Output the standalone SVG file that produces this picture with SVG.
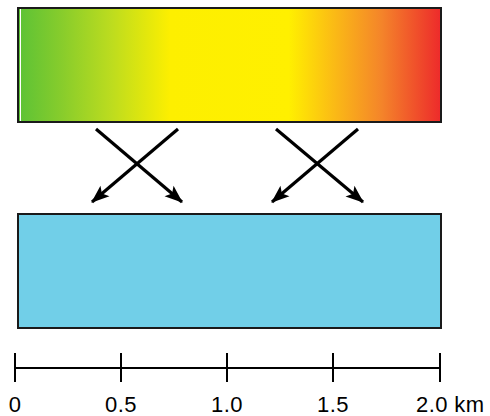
<svg xmlns="http://www.w3.org/2000/svg" width="490" height="416" viewBox="0 0 490 416">
<style>
.box{stroke:#1a1a1a;stroke-width:2}
.conn{stroke:#000;stroke-width:3.2;fill:none;marker-end:url(#ah)}
.scale{stroke:#000;stroke-width:2;fill:none}
.lbl{font-family:"Liberation Sans",Arial,sans-serif;font-size:22px;letter-spacing:0.4px;fill:#000;text-anchor:middle}
</style>
<defs>
<linearGradient id="heat" x1="0" y1="0" x2="1" y2="0">
<stop offset="0" stop-color="#5cc236"/>
<stop offset="0.1" stop-color="#86cc2c"/>
<stop offset="0.22" stop-color="#bcdc1f"/>
<stop offset="0.36" stop-color="#fdef00"/>
<stop offset="0.64" stop-color="#fff000"/>
<stop offset="0.74" stop-color="#fbbe14"/>
<stop offset="0.86" stop-color="#f4842a"/>
<stop offset="1" stop-color="#ed2a2b"/>
</linearGradient>
<marker id="ah" markerWidth="20" markerHeight="16" viewBox="-18 -8 20 16" refX="0" refY="0" orient="auto" markerUnits="userSpaceOnUse">
<path d="M-17,-7 L1,0 L-17,7 L-13,0 Z" fill="#000"/>
</marker>
</defs>
<g id="top-box">
<rect class="box" x="18" y="8" width="423" height="114" fill="url(#heat)"/>
<line x1="20.5" y1="9" x2="20.5" y2="121" stroke="#fff" stroke-width="1"/>
</g>
<g id="bottom-box">
<rect class="box" x="18" y="214" width="423" height="114" fill="#71cfe8"/>
</g>
<g id="connectors">
<line class="conn" x1="96" y1="129" x2="182" y2="202"/>
<line class="conn" x1="178" y1="129" x2="92" y2="202"/>
<line class="conn" x1="276" y1="129" x2="363" y2="202"/>
<line class="conn" x1="358" y1="129" x2="272" y2="202"/>
</g>
<g id="scale-bar">
<path class="scale" d="M15,368 H440 M15,353 V382 M121,353 V382 M227,353 V382 M333,353 V382 M440,353 V382"/>
<text class="lbl" x="15" y="412">0</text>
<text class="lbl" x="121" y="412">0.5</text>
<text class="lbl" x="227" y="412">1.0</text>
<text class="lbl" x="333" y="412">1.5</text>
<text class="lbl" x="416" y="412" style="text-anchor:start">2.0 km</text>
</g>
</svg>
